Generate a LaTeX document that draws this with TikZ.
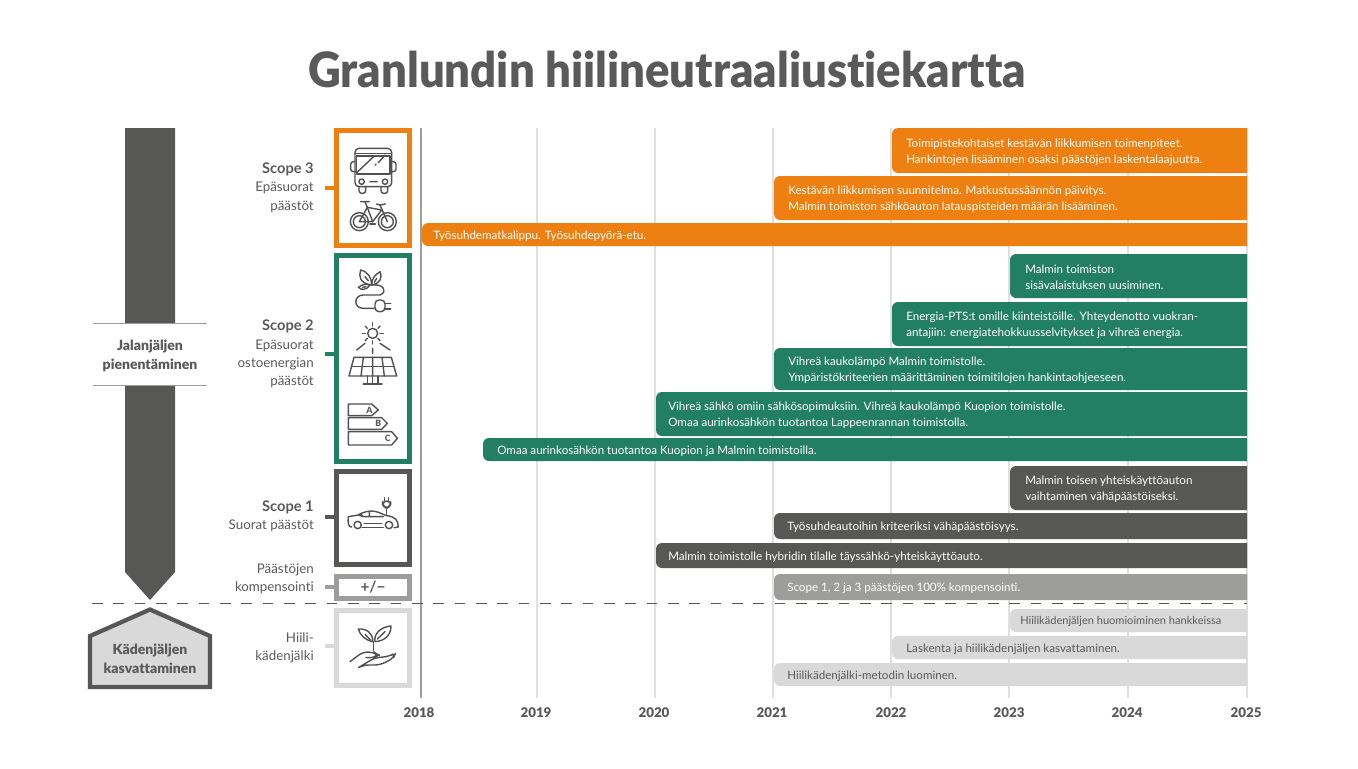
\documentclass[tikz,border=0pt]{standalone}
\usepackage{fontspec}
\setmainfont{Lato}[Ligatures=NoCommon]
\newfontfamily\heavy{Lato Black}[Ligatures=NoCommon]
\definecolor{cor}{HTML}{EE8012}
\definecolor{cgr}{HTML}{237F63}
\definecolor{cdk}{HTML}{575756}
\definecolor{cmd}{HTML}{9D9D9C}
\definecolor{clt}{HTML}{D9D9D9}
\definecolor{ctx}{HTML}{5A5A5A}
\definecolor{cgrid}{HTML}{E0E0E0}
\tikzset{
  barline/.style={font=\fontsize{8.7pt}{12pt}\selectfont,align=left,anchor=west,inner sep=0pt},
  sidelabel/.style={font=\fontsize{10pt}{13.8pt}\selectfont,align=right,anchor=east,inner sep=0pt,text=ctx},
  boldlabel/.style={font=\fontsize{10.5pt}{14pt}\selectfont\heavy,align=center,inner sep=0pt,text=ctx},
  yearlabel/.style={font=\fontsize{10pt}{11pt}\selectfont\heavy,inner sep=0pt,text=ctx},
  scopebox/.style={draw=#1,line width=3.9pt,fill=white,inner sep=0pt,outer sep=0pt,anchor=north west},
  tick/.style={line width=2.6pt,draw=#1},
  gridl/.style={line width=1pt,draw=cgrid},
  icon/.style={draw=ctx!90!black,line width=1.05pt,line cap=round,line join=round,fill=none},
  iconscope/.style={shift={#1},x=0.25pt,y=-0.25pt},
}
% \tbar{left}{top}{bottom}{fill}{text colour}{text x}{text}
\newcommand{\tbar}[7]{%
  \fill[#4] (1247,#2) -- (#1+6,#2) [rounded corners=4.5pt] -- (#1,#2) -- (#1,#3) [sharp corners] -- (1247,#3) -- cycle;
  \node[barline,text=#5] at (#6,{(#2+#3)/2+1.3}) {#7};}
\newcommand{\scopelabel}[1]{{\fontsize{11pt}{13.8pt}\selectfont\bfseries #1}}
\begin{document}
\begin{tikzpicture}[x=0.75pt,y=-0.75pt]
\useasboundingbox (0,0) rectangle (1358,768);
\fill[white] (0,0) rectangle (1358,768);
% title
\node[inner sep=0pt,text=ctx,font=\fontsize{36.5pt}{40pt}\selectfont\heavy] (title) at (667,69.5) {\scalebox{0.933}[1]{Granlundin hiilineutraaliustiekartta}};
% grid
\foreach \gx in {537,655,773,891,1009,1128,1247} \draw[gridl] (\gx,128) -- (\gx,698);
\draw[line width=0.9pt,draw=cmd] (421,128) -- (421,698);
% years
\foreach \gx/\yy in {419/2018,536/2019,654/2020,772/2021,891/2022,1009/2023,1127/2024,1246/2025}
  \node[yearlabel] (y\yy) at (\gx,712.5) {\yy};
% bars
\tbar{892}{128}{173}{cor}{white}{906}{Toimipistekohtaiset kestävän liikkumisen toimenpiteet.\\Hankintojen lisääminen osaksi päästöjen laskentalaajuutta.}
\tbar{774}{176}{220}{cor}{white}{788}{Kestävän liikkumisen suunnitelma. Matkustussäännön päivitys.\\Malmin toimiston sähköauton latauspisteiden määrän lisääminen.}
\tbar{422}{223}{246}{cor}{white}{433}{Työsuhdematkalippu. Työsuhdepyörä-etu.}
\tbar{1010}{254}{298}{cgr}{white}{1025}{Malmin toimiston\\sisävalaistuksen uusiminen.}
\tbar{892}{302}{346}{cgr}{white}{906}{Energia-PTS:t omille kiinteistöille. Yhteydenotto vuokran-\\antajiin: energiatehokkuusselvitykset ja vihreä energia.}
\tbar{774}{348}{390}{cgr}{white}{788}{Vihreä kaukolämpö Malmin toimistolle.\\Ympäristökriteerien määrittäminen toimitilojen hankintaohjeeseen.}
\tbar{656}{392}{436}{cgr}{white}{668}{Vihreä sähkö omiin sähkösopimuksiin. Vihreä kaukolämpö Kuopion toimistolle.\\Omaa aurinkosähkön tuotantoa Lappeenrannan toimistolla.}
\tbar{483}{438}{461}{cgr}{white}{497}{Omaa aurinkosähkön tuotantoa Kuopion ja Malmin toimistoilla.}
\tbar{1010}{466}{510}{cdk}{white}{1025}{Malmin toisen yhteiskäyttöauton\\vaihtaminen vähäpäästöiseksi.}
\tbar{774}{513}{539}{cdk}{white}{787}{Työsuhdeautoihin kriteeriksi vähäpäästöisyys.}
\tbar{656}{543}{568}{cdk}{white}{668}{Malmin toimistolle hybridin tilalle täyssähkö-yhteiskäyttöauto.}
\tbar{774}{574}{600}{cmd}{white}{787}{Scope 1, 2 ja 3 päästöjen 100\% kompensointi.}
\tbar{1010}{609}{632}{clt}{ctx}{1020}{\fontsize{8.3pt}{12pt}\selectfont Hiilikädenjäljen huomioiminen hankkeissa}
\tbar{892}{636}{659}{clt}{ctx}{906}{Laskenta ja hiilikädenjäljen kasvattaminen.}
\tbar{774}{663}{686}{clt}{ctx}{787}{Hiilikädenjälki-metodin luominen.}
% scope boxes
\node[scopebox=cor,minimum width=54.75pt,minimum height=86.25pt] (b3) at (336.5,130.5) {};
\node[scopebox=cgr,minimum width=54.75pt,minimum height=154.5pt] (b2) at (336.5,255.5) {};
\node[scopebox=cdk,minimum width=54.75pt,minimum height=69.75pt] (b1) at (336.5,471.5) {};
\node[scopebox=cmd,minimum width=54.75pt,minimum height=16.5pt] (bc) at (336.5,576.5) {};
\node[scopebox=clt,minimum width=54.75pt,minimum height=56.25pt] (bh) at (336.5,610.5) {};
\node[inner sep=0pt,text=ctx,font=\fontsize{11.5pt}{12pt}\selectfont\bfseries] (pm) at (373,587.5) {+/−};
% side labels and ticks
\coordinate (t3) at (325,188); \coordinate (t2) at (325,354); \coordinate (t1) at (325,517);
\coordinate (tc) at (325,587); \coordinate (th) at (325,646);
\draw[tick=cor] (t3) -- (t3-|b3.west);
\draw[tick=cgr] (t2) -- (t2-|b2.west);
\draw[tick=cdk] (t1) -- (t1-|b1.west);
\draw[tick=cmd] (tc) -- (tc-|bc.west);
\draw[tick=clt] (th) -- (th-|bh.west);
\node[sidelabel] (l3) at (314,187.5) {\scopelabel{Scope 3}\\Epäsuorat\\päästöt};
\node[sidelabel] (l2) at (314,354) {\scopelabel{Scope 2}\\Epäsuorat\\ostoenergian\\päästöt};
\node[sidelabel] (l1) at (314,516.5) {\scopelabel{Scope 1}\\Suorat päästöt};
\node[sidelabel] (lc) at (314,578.5) {Päästöjen\\kompensointi};
\node[sidelabel] (lh) at (314,647.5) {Hiili-\\kädenjälki};
% dashed separator
\coordinate (d1) at (92,603.5); \coordinate (d2) at (1247,603.5);
\draw[line width=0.8pt,draw=cdk,dash pattern=on 8pt off 8pt] (d1) -- (d2);
% left arrow
\fill[cdk] (125,128) -- (175,128) -- (175,572) -- (150,600) -- (125,572) -- cycle;
\fill[white] (90,323) rectangle (210,385);
\draw[line width=0.7pt,draw=cmd] (93,323) -- (207,323);
\draw[line width=0.7pt,draw=cmd] (93,385) -- (207,385);
\node[boldlabel] (jp) at (150,356) {Jalanjäljen\\pienentäminen};
% house
\draw[line width=3.2pt,draw=cdk,fill=clt,line join=miter] (150,609.5) -- (210,636) -- (210,687) -- (90,687) -- (90,636) -- cycle;
\node[boldlabel] (kk) at (150,658.5) {Kädenjäljen\\kasvattaminen};
% bus
\begin{scope}[iconscope={(330,120)}]
\draw[icon,rounded corners=3pt] (75,200) -- (75,85) -- (185,85) -- (185,200) -- cycle;
\draw[icon] (75,100) -- (185,100);
\draw[icon] (80,108) -- (180,108) -- (180,162) -- (80,162) -- cycle;
\draw[icon] (80,158) -- (133,108);
\draw[icon] (135,135) -- (138,132) (145,128) -- (165,105);
\draw[icon,rounded corners=2pt] (75,125) -- (62,125) -- (62,155) -- (75,155);
\draw[icon,rounded corners=2pt] (185,125) -- (198,125) -- (198,155) -- (185,155);
\draw[icon] (95,185) circle (8) (165,185) circle (8) (120,185) -- (142,185);
\draw[icon,rounded corners=2pt] (87,200) -- (87,220) -- (107,220) -- (107,200);
\draw[icon,rounded corners=2pt] (153,200) -- (153,220) -- (173,220) -- (173,200);
% bike
\draw[icon] (88,305) circle (27) (172,305) circle (27) (88,305) circle (18) (172,305) circle (18);
\draw[icon] (88,305) -- (112,262) -- (155,270) -- (128,305) -- (88,305);
\draw[icon] (112,262) -- (128,305) (172,305) -- (150,255) -- (140,252) (150,255) -- (166,252);
\draw[icon] (92,245) -- (118,245) (105,245) -- (112,262);
\draw[icon] (120,312) -- (136,312);
\end{scope}
% leaves and plug
\begin{scope}[iconscope={(330,250)}]
\draw[icon] (125,105) .. controls (90,100) and (85,80) .. (92,60) .. controls (115,65) and (125,85) .. (125,105);
\draw[icon] (125,105) .. controls (125,85) and (135,75) .. (150,65) .. controls (158,85) and (150,100) .. (125,105);
\draw[icon] (120,105) .. controls (105,100) and (95,105) .. (85,112) .. controls (95,122) and (110,120) .. (120,105);
\draw[icon] (105,80) -- (115,92) (140,85) -- (133,97) (98,112) -- (108,110);
\draw[icon] (125,105) .. controls (160,100) and (175,125) .. (150,135) -- (100,135) .. controls (70,135) and (70,175) .. (100,175) -- (135,175);
\draw[icon,rounded corners=3pt] (135,150) -- (165,150) -- (165,185) -- (135,185) -- cycle;
\draw[icon] (165,160) -- (182,160) (165,177) -- (182,177);
% sun
\draw[icon] (128,250) circle (15);
\draw[icon] (128,218) -- (128,228) (128,272) -- (128,282) (97,250) -- (106,250) (150,250) -- (160,250);
\draw[icon] (105,228) -- (112,235) (150,228) -- (144,235) (105,272) -- (112,265) (150,272) -- (144,265);
\draw[icon] (128,295) -- (128,310) (105,280) -- (80,300) (150,280) -- (180,300);
% panel
\draw[icon] (72,322) -- (184,322) -- (200,378) -- (57,378) -- cycle;
\draw[icon] (65,350) -- (192,350);
\draw[icon] (100,322) -- (93,378) (128,322) -- (128,378) (156,322) -- (163,378);
\draw[icon] (128,378) -- (128,402) (100,402) -- (156,402) (112,378) -- (112,402) (144,378) -- (144,402);
% energy labels
\draw[icon] (55,462) -- (125,462) -- (145,480) -- (125,497) -- (55,497) -- cycle;
\draw[icon] (55,503) -- (155,503) -- (172,520) -- (155,538) -- (55,538) -- cycle;
\draw[icon] (55,545) -- (185,545) -- (202,565) -- (185,585) -- (55,585) -- cycle;
\node[inner sep=0pt,text=ctx,font=\fontsize{6.5pt}{7pt}\selectfont\heavy] (ea) at (118,480) {A};
\node[inner sep=0pt,text=ctx,font=\fontsize{6.5pt}{7pt}\selectfont\heavy] (eb) at (145,521) {B};
\node[inner sep=0pt,text=ctx,font=\fontsize{6.5pt}{7pt}\selectfont\heavy] (ec) at (173,565) {C};
\end{scope}
% car, plug, hand
\begin{scope}[iconscope={(330,465)}]
\draw[icon] (65,186) .. controls (55,186) and (53,175) .. (55,155) -- (85,150) .. controls (100,140) and (120,136) .. (135,139) .. controls (150,142) and (160,150) .. (170,152) .. controls (195,155) and (205,165) .. (205,186) -- (192,188);
\draw[icon] (96,187) -- (160,187);
\draw[icon] (85,150) -- (100,155) -- (160,155) (118,140) -- (118,155) (90,145) -- (100,155);
\draw[icon] (102,175) -- (155,175);
\draw[icon] (83,180) circle (11) (177,180) circle (11);
\draw[icon] (170,150) -- (170,130);
\draw[icon,rounded corners=3pt] (158,108) -- (182,108) -- (182,122) -- (170,131) -- (158,122) -- cycle;
\draw[icon] (164,108) -- (164,98) (176,108) -- (176,98);
% plant in hand
\draw[icon] (130,558) -- (130,530);
\draw[icon] (128,530) .. controls (105,525) and (90,510) .. (85,492) .. controls (110,490) and (130,505) .. (128,530);
\draw[icon] (135,530) .. controls (130,505) and (155,485) .. (183,483) .. controls (183,510) and (165,528) .. (135,530);
\draw[icon] (105,508) -- (122,525) (165,500) -- (142,522);
\draw[icon,rounded corners=4pt] (60,590) -- (100,560) -- (135,563) -- (145,570) -- (135,578) -- (108,578);
\draw[icon,rounded corners=4pt] (135,578) -- (175,575) -- (197,563) -- (190,580) -- (150,600) -- (100,600) -- (78,612) -- cycle;
\end{scope}
\end{tikzpicture}
\end{document}
